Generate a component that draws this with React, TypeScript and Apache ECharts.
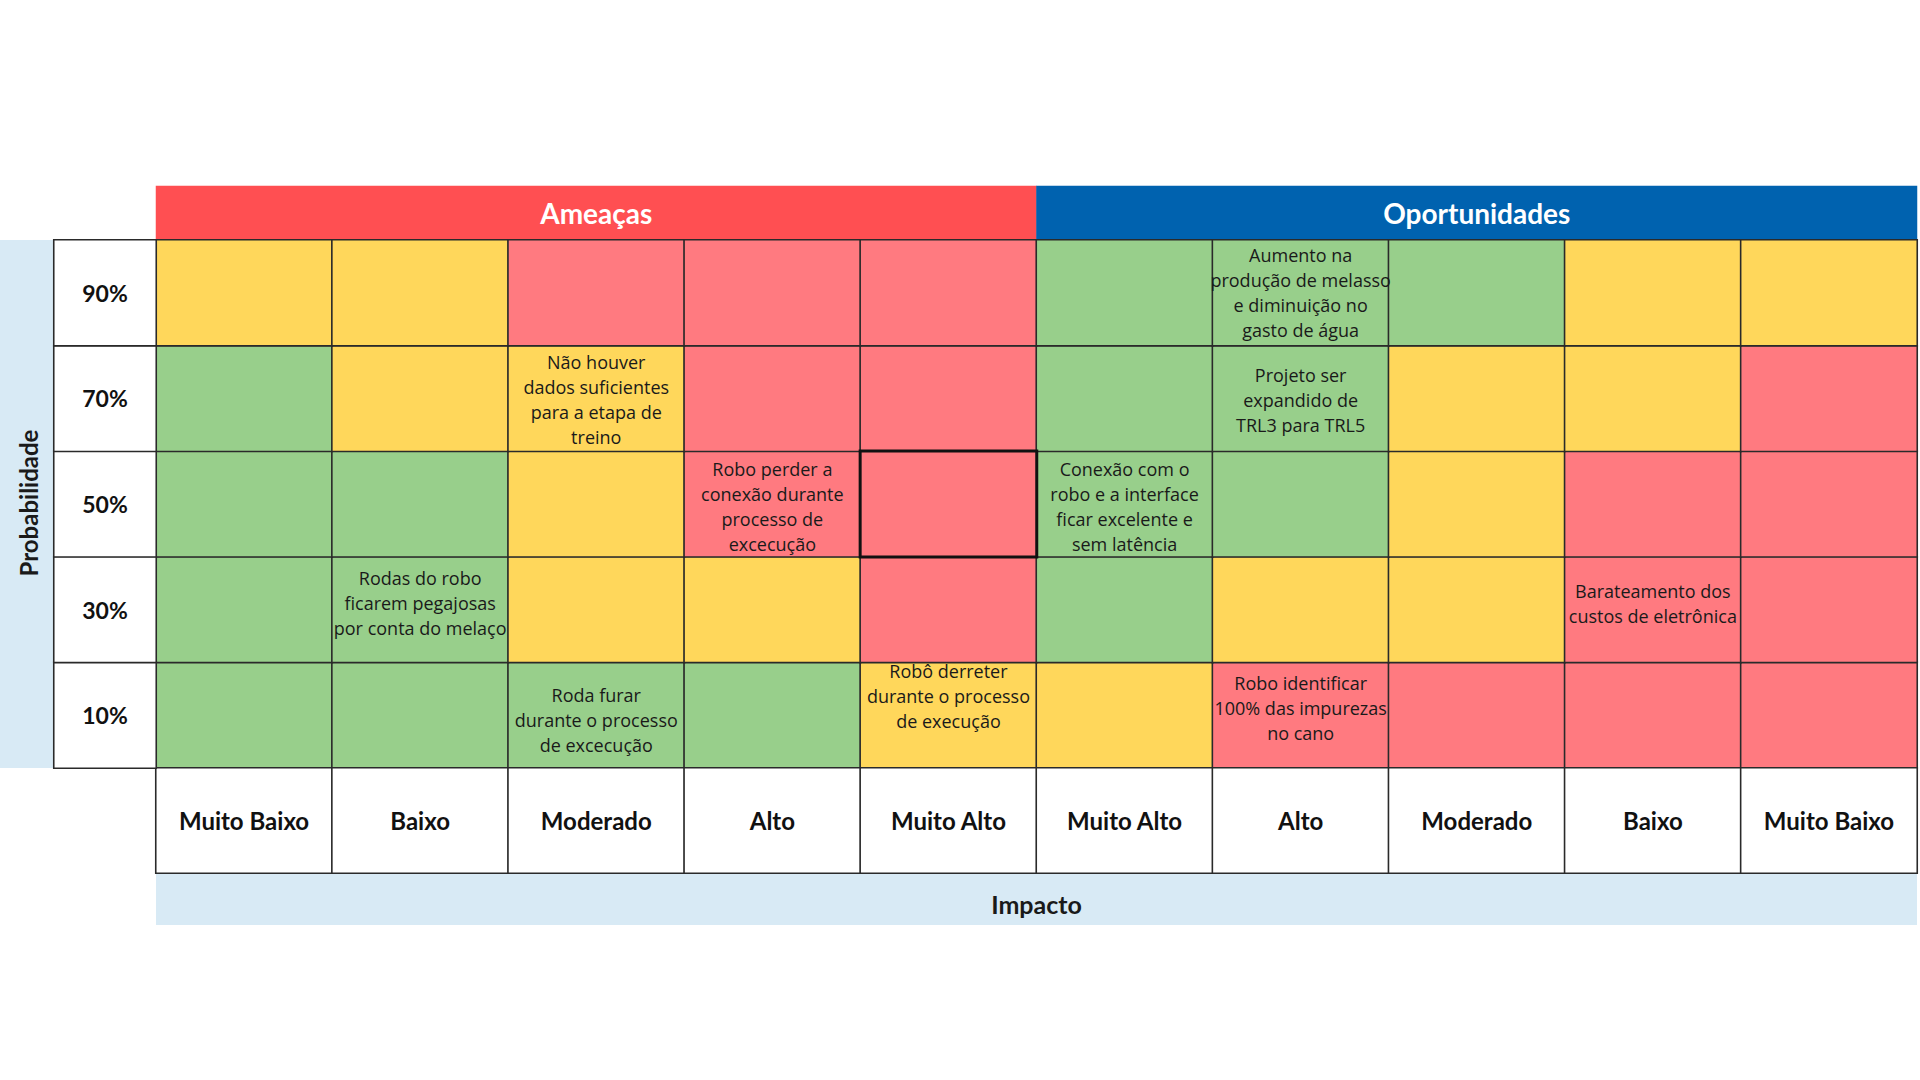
import React, { useEffect, useRef } from "react";
import * as echarts from "echarts";

// ---------- data ----------
const groups = ["Ameaças", "Oportunidades"];
const impactLabels = [
  "Muito Baixo", "Baixo", "Moderado", "Alto", "Muito Alto",
  "Muito Alto", "Alto", "Moderado", "Baixo", "Muito Baixo",
];
const probLabels = ["10%", "30%", "50%", "70%", "90%"]; // bottom -> top

// risk level per cell: 1 = low (green), 2 = medium (yellow), 3 = high (red)
const level90 = [2, 2, 3, 3, 3, 1, 1, 1, 2, 2];
const level70 = [1, 2, 2, 3, 3, 1, 1, 2, 2, 3];
const level50 = [1, 1, 2, 3, 3, 1, 1, 2, 3, 3];
const level30 = [1, 1, 2, 2, 3, 1, 2, 2, 3, 3];
const level10 = [1, 1, 1, 1, 2, 2, 3, 3, 3, 3];
const levelsByRow = [level10, level30, level50, level70, level90];

const riskCols = [6, 2, 6, 3, 5, 1, 8, 2, 4, 6];
const riskRows = ["90%", "70%", "70%", "50%", "50%", "30%", "30%", "10%", "10%", "10%"];
const riskTexts = [
  "Aumento na\nprodução de melasso\ne diminuição no\ngasto de água",
  "Não houver\ndados suficientes\npara a etapa de\ntreino",
  "Projeto ser\nexpandido de\nTRL3 para TRL5",
  "Robo perder a\nconexão durante\nprocesso de\nexcecução",
  "Conexão com o\nrobo e a interface\nficar excelente e\nsem latência",
  "Rodas do robo\nficarem pegajosas\npor conta do melaço",
  "Barateamento dos\ncustos de eletrônica",
  "Roda furar\ndurante o processo\nde excecução",
  "Robô derreter\ndurante o processo\nde execução",
  "Robo identificar\n100% das impurezas\nno cano",
];
const highlightCell = { col: 4, row: "50%" };

// ---------- styles ----------
const levelColors: Record<number, string> = { 1: "#98CF8B", 2: "#FFD75B", 3: "#FF7A80" };
const groupColors = ["#FF4F52", "#0062AF"];
const bandColor = "#D8EAF5";
const lineColor = "#2A2A2A";
const textOffsets: number[][] = [
  [0, 0], [0, 1], [0, 2], [0, 2], [0, 2], [0, -7], [0, -6], [0, 5], [0, -19], [0, -7],
];

const L = 156, W = 1761;
const HEADER_TOP = 186, HEADER_H = 54;
const MAIN_TOP = 240, MAIN_H = 528;
const LAB_TOP = 768, LAB_H = 105;
const PCOL_L = 54, PCOL_W = 102;

export default function App() {
  const ref = useRef<HTMLDivElement>(null);

  useEffect(() => {
    if (!ref.current) return;
    const chart = echarts.init(ref.current, undefined, { renderer: "svg" });

    const mainData: any[] = [];
    let highlighted: any = null;
    probLabels.forEach((p, yi) => {
      levelsByRow[yi].forEach((lv, xi) => {
        const ri = riskCols.findIndex((c, k) => c === xi && riskRows[k] === p);
        const item: any = {
          value: [xi, yi, lv],
          label: {
            show: ri >= 0,
            formatter: ri >= 0 ? riskTexts[ri] : "",
            offset: ri >= 0 ? textOffsets[ri] : [0, 0],
          },
        };
        if (xi === highlightCell.col && p === highlightCell.row) {
          item.itemStyle = { borderColor: "#111", borderWidth: 3 };
          highlighted = item;
        } else {
          mainData.push(item);
        }
      });
    });
    if (highlighted) mainData.push(highlighted);

    const boldFont = "Lato, 'Open Sans', sans-serif";

    const option: any = {
      animation: false,
      backgroundColor: "#ffffff",
      grid: [
        { left: L, top: HEADER_TOP, width: W, height: HEADER_H },
        { left: L, top: MAIN_TOP, width: W, height: MAIN_H },
        { left: L, top: LAB_TOP, width: W, height: LAB_H },
        { left: PCOL_L, top: MAIN_TOP, width: PCOL_W, height: MAIN_H },
      ],
      xAxis: [
        { type: "category", gridIndex: 0, data: groups, show: false },
        { type: "category", gridIndex: 1, data: impactLabels.map((_, i) => String(i)), show: false },
        { type: "category", gridIndex: 2, data: impactLabels.map((_, i) => String(i)), show: false },
        { type: "category", gridIndex: 3, data: ["p"], show: false },
      ],
      yAxis: [
        { type: "category", gridIndex: 0, data: ["h"], show: false },
        { type: "category", gridIndex: 1, data: probLabels, show: false },
        { type: "category", gridIndex: 2, data: ["i"], show: false },
        { type: "category", gridIndex: 3, data: probLabels, show: false },
      ],
      visualMap: [
        {
          type: "piecewise", show: false, seriesIndex: 0, dimension: 2,
          pieces: [{ value: 0, color: groupColors[0] }, { value: 1, color: groupColors[1] }],
        },
        {
          type: "piecewise", show: false, seriesIndex: 1, dimension: 2,
          pieces: [
            { value: 1, color: levelColors[1] },
            { value: 2, color: levelColors[2] },
            { value: 3, color: levelColors[3] },
          ],
        },
        {
          type: "piecewise", show: false, seriesIndex: [2, 3], dimension: 2,
          pieces: [{ value: 0, color: "#ffffff" }],
        },
      ],
      graphic: [
        { type: "rect", shape: { x: 0, y: MAIN_TOP, width: PCOL_L, height: MAIN_H }, style: { fill: bandColor }, z: -1 },
        { type: "rect", shape: { x: L, y: LAB_TOP + LAB_H, width: W, height: 52 }, style: { fill: bandColor }, z: -1 },
        {
          type: "text", x: 28, y: MAIN_TOP + MAIN_H / 2 - 1, rotation: Math.PI / 2,
          style: { text: "Probabilidade", font: `bold 24px ${boldFont}`, fill: "#1a1a1a", align: "center", verticalAlign: "middle" },
        },
        {
          type: "text", x: L + W / 2, y: LAB_TOP + LAB_H + 31,
          style: { text: "Impacto", font: `bold 25px ${boldFont}`, fill: "#1a1a1a", align: "center", verticalAlign: "middle" },
        },
      ],
      series: [
        {
          type: "heatmap", xAxisIndex: 0, yAxisIndex: 0,
          data: groups.map((g, i) => [i, 0, i]),
          itemStyle: { borderWidth: 0 },
          label: {
            show: true, formatter: (p: any) => groups[p.value[0]],
            color: "#ffffff", fontFamily: boldFont, fontWeight: "bold", fontSize: 28,
          },
          emphasis: { disabled: true },
        },
        {
          type: "heatmap", xAxisIndex: 1, yAxisIndex: 1,
          data: mainData,
          itemStyle: { borderColor: lineColor, borderWidth: 1.6 },
          label: {
            color: "#1a1a1a", fontFamily: "'Open Sans', sans-serif", fontSize: 18, lineHeight: 25,
            align: "center",
          },
          emphasis: { disabled: true },
        },
        {
          type: "heatmap", xAxisIndex: 2, yAxisIndex: 2,
          data: impactLabels.map((_, i) => [i, 0, 0]),
          itemStyle: { borderColor: lineColor, borderWidth: 1.6 },
          label: {
            show: true, formatter: (p: any) => impactLabels[p.value[0]],
            color: "#111", fontFamily: boldFont, fontWeight: "bold", fontSize: 24,
          },
          emphasis: { disabled: true },
        },
        {
          type: "heatmap", xAxisIndex: 3, yAxisIndex: 3,
          data: probLabels.map((_, i) => [0, i, 0]),
          itemStyle: { borderColor: lineColor, borderWidth: 1.6 },
          label: {
            show: true, formatter: (p: any) => probLabels[p.value[1]],
            color: "#111", fontFamily: boldFont, fontWeight: "bold", fontSize: 23,
          },
          emphasis: { disabled: true },
        },
      ],
    };

    chart.setOption(option);
    return () => chart.dispose();
  }, []);

  return (
    <div
      ref={ref}
      style={{ position: "fixed", left: 0, top: 0, width: 1920, height: 1080, background: "#fff" }}
    />
  );
}
